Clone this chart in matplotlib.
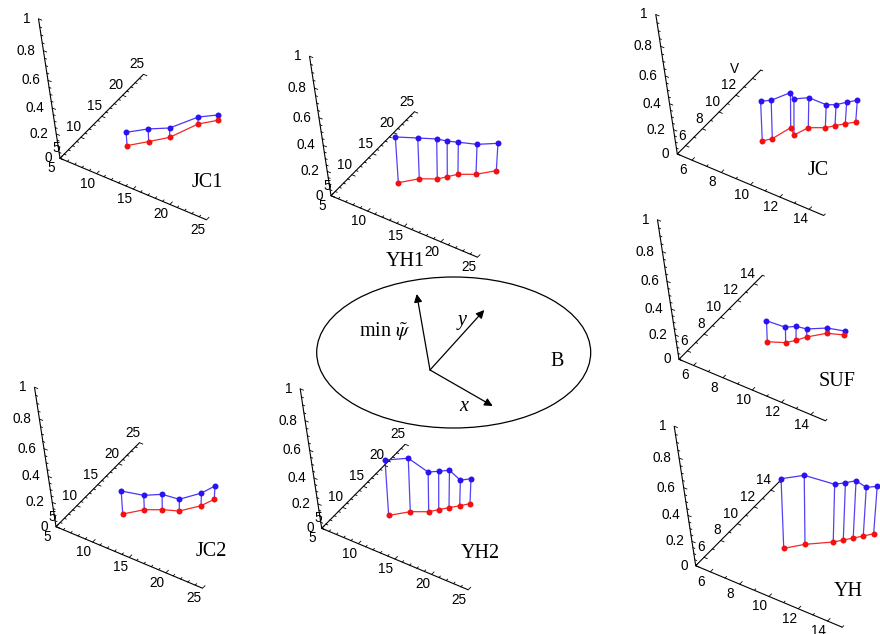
import numpy as np
import matplotlib.pyplot as plt
from matplotlib.patches import Ellipse

plt.rcParams['font.family'] = ['Liberation Sans', 'DejaVu Sans']
plt.rcParams['mathtext.fontset'] = 'stix'

# screen size (pixels) of the full x, y and z axes, same for every panel
X_VEC = np.array([146.5, 61.5])
Y_VEC = np.array([83.5, -84.0])
Z_VEC = np.array([-21.5, -139.5])
DEPTH = -0.154          # perspective along the vertical axis

BLUE = '#2a12f2'
RED = '#f21010'
SERIF = ['Liberation Serif', 'DejaVu Serif']

# floor position (x, y) of every point and the value z above it
jc1_x = [10.24, 11.94, 13.56, 15.01, 16.58]
jc1_y = [11.86, 14.06, 16.26, 20.49, 22.53]
jc1_z = [0.109, 0.103, 0.076, 0.056, 0.043]

yh1_x = [10.24, 11.88, 13.64, 14.38, 15.18, 16.92, 18.53]
yh1_y = [11.93, 14.08, 15.30, 16.39, 17.55, 18.82, 20.86]
yh1_z = [0.360, 0.321, 0.316, 0.282, 0.254, 0.238, 0.217]

jc2_x = [10.21, 11.88, 13.61, 15.37, 16.96, 17.62]
jc2_y = [11.84, 14.08, 15.35, 16.33, 18.75, 20.77]
jc2_z = [0.186, 0.117, 0.125, 0.096, 0.103, 0.107]

yh2_x = [10.22, 11.94, 13.72, 14.49, 15.29, 16.13, 16.93]
yh2_y = [11.88, 14.04, 15.33, 16.38, 17.44, 18.53, 19.59]
yh2_z = [0.431, 0.415, 0.313, 0.303, 0.295, 0.203, 0.199]

jc_x = [8.47, 8.84, 9.20, 9.71, 10.05, 10.87, 11.24, 11.64, 12.06]
jc_y = [9.09, 9.64, 11.21, 10.71, 11.83, 12.43, 12.94, 13.47, 13.98]
jc_z = [0.315, 0.304, 0.275, 0.285, 0.237, 0.183, 0.167, 0.170, 0.172]

suf_x = [8.41, 9.34, 9.73, 10.08, 10.88, 11.80]
suf_y = [9.59, 10.16, 10.72, 11.38, 12.40, 12.87]
suf_z = [0.169, 0.125, 0.114, 0.065, 0.043, 0.033]

yh_x = [8.41, 9.24, 10.49, 10.88, 11.26, 11.65, 12.04]
yh_y = [9.56, 10.65, 11.84, 12.36, 12.88, 13.40, 13.96]
yh_z = [0.530, 0.523, 0.442, 0.438, 0.437, 0.374, 0.364]

big_ticks = [5, 10, 15, 20, 25]
small_ticks = [6, 8, 10, 12, 14]
z_ticks = [0, 0.2, 0.4, 0.6, 0.8, 1]
z_labels = ['0', '0.2', '0.4', '0.6', '0.8', '1']

panels = [
    dict(name='JC1', origin=(60, 158.3), rng=(5, 25), xt=big_ticks, yt=big_ticks,
         x=jc1_x, y=jc1_y, z=jc1_z, name_at=(147, 24.5)),
    dict(name='YH1', origin=(331, 195.7), rng=(5, 25), xt=big_ticks, yt=big_ticks,
         x=yh1_x, y=yh1_y, z=yh1_z, name_at=(74, 66.3)),
    dict(name='JC2', origin=(56, 526.7), rng=(5, 25), xt=big_ticks, yt=big_ticks,
         x=jc2_x, y=jc2_y, z=jc2_z, name_at=(155.7, 25)),
    dict(name='YH2', origin=(321.7, 528.3), rng=(5, 25), xt=big_ticks, yt=big_ticks,
         x=yh2_x, y=yh2_y, z=yh2_z, name_at=(158.3, 25)),
    dict(name='JC', origin=(677.3, 154), rng=(5, 15), xt=small_ticks, yt=small_ticks[:-1],
         x=jc_x, y=jc_y, z=jc_z, name_at=(141, 16.7), ylabel='V'),
    dict(name='SUF', origin=(679, 359.3), rng=(5, 15), xt=small_ticks, yt=small_ticks,
         x=suf_x, y=suf_y, z=suf_z, name_at=(157.7, 22.4)),
    dict(name='YH', origin=(695.7, 565.7), rng=(5, 15), xt=small_ticks, yt=small_ticks,
         x=yh_x, y=yh_y, z=yh_z, name_at=(152.6, 26)),
]


def project(p, x, y, z):
    lo, hi = p['rng']
    u = (np.asarray(x, float) - lo) / (hi - lo)
    v = (np.asarray(y, float) - lo) / (hi - lo)
    w = np.asarray(z, float)
    den = 1 + DEPTH * w
    sx = (X_VEC[0] * u + Y_VEC[0] * v + Z_VEC[0] * (1 + DEPTH) * w) / den
    sy = (X_VEC[1] * u + Y_VEC[1] * v + Z_VEC[1] * (1 + DEPTH) * w) / den
    return p['origin'][0] + sx, p['origin'][1] + sy


def draw_box_axes(ax, p):
    lo, hi = p['rng']
    fs = 9.8
    # the three axis lines from the common corner
    for ex, ey, ez in [(hi, lo, 0), (lo, hi, 0), (lo, lo, 1)]:
        sx, sy = project(p, [lo, ex], [lo, ey], [0, ez])
        ax.plot(sx, sy, color='k', lw=0.8, solid_capstyle='butt')

    ydir = Y_VEC / np.hypot(*Y_VEC)
    xdir = X_VEC / np.hypot(*X_VEC)
    for t in np.arange(lo, hi + 1e-6, 1.0):
        ln = 3.5 if t in p['xt'] else 2.0
        px, py = project(p, t, lo, 0)
        ax.plot([px, px + ln * ydir[0]], [py, py + ln * ydir[1]], color='k', lw=0.6)
        px, py = project(p, lo, t, 0)
        ax.plot([px, px + ln * xdir[0]], [py, py + ln * xdir[1]], color='k', lw=0.6)
    for t in np.arange(0, 1 + 1e-6, 0.05):
        major = abs(t * 5 - round(t * 5)) < 1e-6
        ln = 3.5 if major else 2.0
        px, py = project(p, lo, lo, t)
        ax.plot([px, px + ln * xdir[0]], [py, py + ln * xdir[1]], color='k', lw=0.6)

    for t in p['xt']:
        px, py = project(p, t, lo, 0)
        ax.text(px - 9, py + 10, f'{t:g}', fontsize=fs, ha='center', va='center')
    for t in p['yt']:
        px, py = project(p, lo, t, 0)
        ax.text(px + 0.5, py - 10, f'{t:g}', fontsize=fs, ha='right', va='center')
    if 'ylabel' in p:
        px, py = project(p, lo, 14, 0)
        ax.text(px - 18, py - 9, p['ylabel'], fontsize=fs, ha='center', va='center')
    for t, s in zip(z_ticks, z_labels):
        px, py = project(p, lo, lo, t)
        ax.text(px - 8, py, s, fontsize=fs, ha='right', va='center')


def draw_points(ax, p):
    fx, fy = project(p, p['x'], p['y'], np.zeros(len(p['x'])))
    tx, ty = project(p, p['x'], p['y'], p['z'])
    for a, b, c, d in zip(fx, fy, tx, ty):
        ax.plot([a, c], [b, d], color=BLUE, lw=0.9, alpha=0.8)
    ax.plot(tx, ty, color=BLUE, lw=0.9, alpha=0.85)
    ax.plot(fx, fy, color=RED, lw=0.9, alpha=0.9)
    ax.plot(tx, ty, 'o', ms=4.3, color=BLUE, mec='none', zorder=5)
    ax.plot(fx, fy, 'o', ms=4.3, color=RED, mec='none', zorder=5)
    ox, oy = p['origin']
    ax.text(ox + p['name_at'][0], oy + p['name_at'][1], p['name'], fontsize=14.5,
            family=SERIF, ha='center', va='center')


fig = plt.figure(figsize=(8.8, 6.34), dpi=100)
ax = fig.add_axes([0, 0, 1, 1])
ax.set_xlim(0, 880)
ax.set_ylim(634, 0)
ax.axis('off')

for p in panels:
    draw_box_axes(ax, p)
    draw_points(ax, p)

# sketch of the region B with its local frame
ax.add_patch(Ellipse((453.7, 352.5), 274, 151, fill=False, ec='k', lw=0.9))
base = (430, 370)
for tip in [(416.7, 294), (484.3, 310), (492.7, 406)]:
    ax.annotate('', xy=tip, xytext=base,
                arrowprops=dict(arrowstyle='-|>', color='k', lw=0.9,
                                mutation_scale=12, shrinkA=0, shrinkB=0))
ax.text(385, 331, r'min $\tilde{\psi}$', fontsize=14.5, family=SERIF, ha='center', va='center')
ax.text(461.7, 320.5, 'y', fontsize=14.5, family=SERIF, style='italic', ha='center', va='center')
ax.text(463.3, 406.7, 'x', fontsize=14.5, family=SERIF, style='italic', ha='center', va='center')
ax.text(557.3, 361, 'B', fontsize=14.5, family=SERIF, ha='center', va='center')

fig.savefig('out.png', dpi=100)
